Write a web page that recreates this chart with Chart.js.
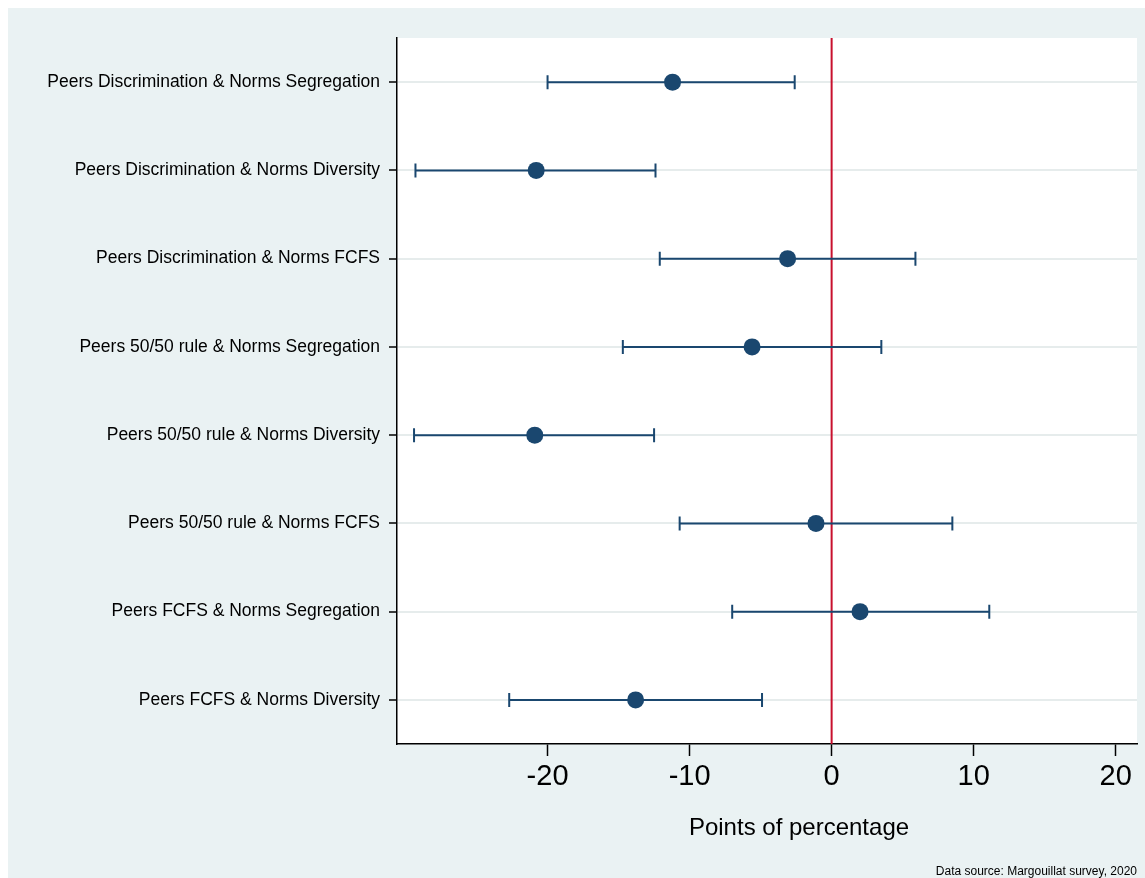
<!DOCTYPE html>
<html><head><meta charset="utf-8">
<script src="https://cdn.jsdelivr.net/npm/chart.js@4"></script>
<style>html,body{margin:0;padding:0;background:#fff}#c{display:block}</style>
</head><body>
<div style="width:1145px;height:878px"><canvas id="c"></canvas></div>
<script>
const categories = ["Peers Discrimination & Norms Segregation","Peers Discrimination & Norms Diversity","Peers Discrimination & Norms FCFS","Peers 50/50 rule & Norms Segregation","Peers 50/50 rule & Norms Diversity","Peers 50/50 rule & Norms FCFS","Peers FCFS & Norms Segregation","Peers FCFS & Norms Diversity"];
const estimates = [-11.2,-20.8,-3.1,-5.6,-20.9,-1.1,2.0,-13.8];
const lower = [-20.0,-29.3,-12.1,-14.7,-29.4,-10.7,-7.0,-22.7];
const upper = [-2.6,-12.4,5.9,3.5,-12.5,8.5,11.1,-4.9];
const xTicks = [-20,-10,0,10,20];
const navy = '#1a476f';

const deco = {
  id:'deco',
  beforeDraw(ch){
    const c=ch.ctx, a=ch.chartArea;
    c.save();
    c.fillStyle='#eaf2f3'; c.fillRect(8,8,ch.width-8,ch.height-8);
    c.fillStyle='#fff'; c.fillRect(a.left,a.top,a.right-a.left,a.bottom-a.top);
    c.restore();
  },
  afterDatasetsDraw(ch){
    const c=ch.ctx, x=ch.scales.x, y=ch.scales.y, a=ch.chartArea;
    c.save();
    c.strokeStyle='#c8102e'; c.lineWidth=2;
    const x0=x.getPixelForValue(0);
    c.beginPath(); c.moveTo(x0,a.top); c.lineTo(x0,a.bottom); c.stroke();
    c.strokeStyle=navy; c.lineWidth=2;
    categories.forEach((cat,i)=>{
      const py=y.getPixelForValue(i), l=x.getPixelForValue(lower[i]), u=x.getPixelForValue(upper[i]);
      c.beginPath(); c.moveTo(l,py); c.lineTo(u,py);
      c.moveTo(l,py-7); c.lineTo(l,py+7); c.moveTo(u,py-7); c.lineTo(u,py+7); c.stroke();
    });
    c.fillStyle=navy;
    estimates.forEach((v,i)=>{c.beginPath();c.arc(x.getPixelForValue(v),y.getPixelForValue(i),8.5,0,Math.PI*2);c.fill();});
    c.fillStyle='#000'; c.textAlign='center'; c.textBaseline='middle';
    c.font='24px Arial, "Liberation Sans"';
    c.fillText('Points of percentage',799,828);
    c.textAlign='right'; c.font='12px Arial, "Liberation Sans"';
    c.fillText('Data source: Margouillat survey, 2020',1137,872);
    c.restore();
  }
};

new Chart(document.getElementById('c'),{
  type:'line',
  data:{labels:categories,datasets:[{data:estimates,showLine:false,pointRadius:0,pointHoverRadius:0}]},
  options:{
    indexAxis:'y',responsive:true,maintainAspectRatio:false,animation:false,
    layout:{padding:{left:8,top:38,right:8,bottom:0}},
    plugins:{legend:{display:false},tooltip:{enabled:false}},
    scales:{
      x:{type:'linear',min:-30.6,max:21.5,
        afterBuildTicks(s){s.ticks=xTicks.map(v=>({value:v}));},
        afterFit(s){s.height=134;},
        border:{color:'#000',width:1.5},
        grid:{drawOnChartArea:false,drawTicks:true,tickLength:12,tickColor:'#000',tickWidth:1.5},
        ticks:{color:'#000',font:{size:29,family:'Arial, "Liberation Sans"'},padding:4,maxRotation:0}
      },
      y:{type:'category',offset:true,
        afterFit(s){s.width=389;},
        border:{color:'#000',width:1.5},
        grid:{color:'#e6ecec',lineWidth:2,tickColor:'#000',tickLength:8,tickWidth:1.5,offset:false},
        ticks:{color:'#000',font:{size:17.5,family:'Arial, "Liberation Sans"'},padding:9}
      }
    }
  },
  plugins:[deco]
});
</script>
</body></html>
